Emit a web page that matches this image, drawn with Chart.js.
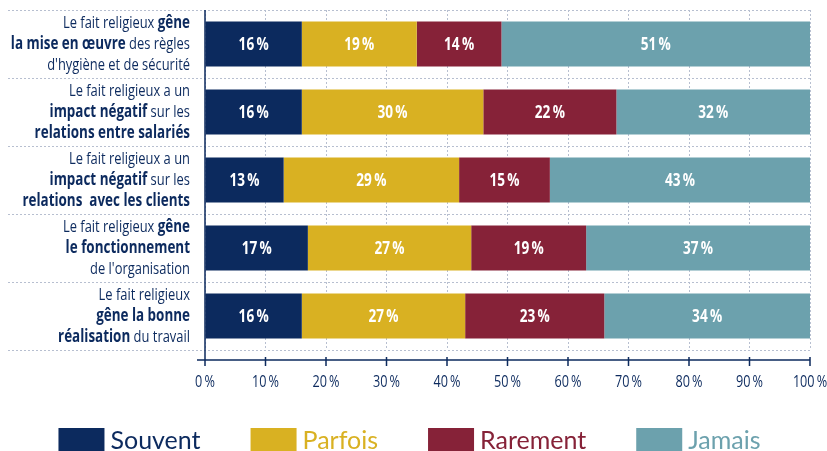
<!DOCTYPE html>
<html lang="fr">
<head>
<meta charset="utf-8">
<title>Fait religieux au travail</title>
<script src="https://cdn.jsdelivr.net/npm/chart.js@4.4.1/dist/chart.umd.min.js"></script>
<style>
  html, body { margin: 0; padding: 0; background: #fff; }
</style>
</head>
<body>
<canvas id="chart" width="827" height="451"></canvas>
<script>
// rows of the chart, three lines each; **...** marks bold words
const rowLabels = [
  ["Le fait religieux **gêne**", "**la mise en œuvre** des règles", "d'hygiène et de sécurité"],
  ["Le fait religieux a un", "**impact négatif** sur les", "**relations entre salariés**"],
  ["Le fait religieux a un", "**impact négatif** sur les", "**relations  avec les clients**"],
  ["Le fait religieux **gêne**", "**le fonctionnement**", "de l'organisation"],
  ["Le fait religieux", "**gêne la bonne**", "**réalisation** du travail"]
];

const seriesNames = ["Souvent", "Parfois", "Rarement", "Jamais"];
const seriesColors = ["#0c2a5e", "#d9b122", "#862238", "#6ca1ad"];

const souvent  = [16, 16, 13, 17, 16];
const parfois  = [19, 30, 29, 27, 27];
const rarement = [14, 22, 15, 19, 23];
const jamais   = [51, 32, 43, 37, 34];

const xTicks = [0, 10, 20, 30, 40, 50, 60, 70, 80, 90, 100];

const NAVY = "#0c2a5e";
const GRID = "#b7bfd0";
const FAMILY = "'Open Sans', 'Noto Sans', sans-serif";
// horizontal squeeze for the condensed look
const SQUEEZE = 0.76, SQUEEZE_BOLD = 0.79;
const pct = v => v + "\u2009%";

function segments(line) {
  return line.split("**").map((t, i) => ({ text: t, bold: i % 2 === 1 })).filter(s => s.text);
}

// draws text squeezed horizontally around its anchor
function narrowText(ctx, text, x, y, align, sx) {
  ctx.save();
  ctx.translate(x, y);
  ctx.scale(sx, 1);
  ctx.textAlign = align;
  ctx.fillText(text, 0, 0);
  ctx.restore();
}

// dotted row separators, axis lines, tick marks and tick labels
const framePlugin = {
  id: "frame",
  beforeDatasetsDraw(chart) {
    const { ctx, chartArea: a } = chart;
    const band = (a.bottom - a.top) / rowLabels.length;
    ctx.save();
    ctx.strokeStyle = GRID;
    ctx.lineWidth = 1;
    ctx.setLineDash([2, 2]);
    for (let k = 0; k <= rowLabels.length; k++) {
      const y = Math.round(a.top + k * band) + 0.5;
      ctx.beginPath();
      ctx.moveTo(8, y);
      ctx.lineTo(a.right, y);
      ctx.stroke();
    }
    ctx.restore();
  },
  afterDraw(chart) {
    const { ctx, chartArea: a } = chart;
    const xs = chart.scales.x;
    const axisY = a.bottom + 10;
    ctx.save();
    ctx.strokeStyle = NAVY;
    ctx.lineWidth = 1.5;
    ctx.beginPath();
    ctx.moveTo(a.left, a.top);
    ctx.lineTo(a.left, axisY);
    ctx.moveTo(a.left - 8, axisY);
    ctx.lineTo(a.right, axisY);
    xTicks.forEach(v => {
      const x = xs.getPixelForValue(v);
      ctx.moveTo(x, axisY - 3);
      ctx.lineTo(x, axisY + 6);
    });
    ctx.stroke();
    ctx.fillStyle = NAVY;
    ctx.font = "16px " + FAMILY;
    ctx.textBaseline = "middle";
    xTicks.forEach(v => narrowText(ctx, pct(v), xs.getPixelForValue(v), axisY + 22, "center", 0.79));
    ctx.restore();
  }
};

// multi-weight row labels left of the bars
const rowLabelPlugin = {
  id: "rowLabels",
  afterDraw(chart) {
    const { ctx, chartArea: a } = chart;
    const ys = chart.scales.y;
    const right = a.left - 15;
    ctx.save();
    ctx.fillStyle = NAVY;
    ctx.textBaseline = "middle";
    rowLabels.forEach((lines, j) => {
      const yc = ys.getPixelForValue(j);
      lines.forEach((line, k) => {
        const segs = segments(line);
        let w = 0;
        segs.forEach(s => {
          s.font = (s.bold ? "bold " : "") + "17px " + FAMILY;
          s.sx = s.bold ? SQUEEZE_BOLD : SQUEEZE;
          ctx.font = s.font;
          s.w = ctx.measureText(s.text).width * s.sx;
          w += s.w;
        });
        let x = right - w;
        const y = yc + (k - 1) * 21;
        segs.forEach(s => {
          ctx.font = s.font;
          narrowText(ctx, s.text, x, y, "left", s.sx);
          x += s.w;
        });
      });
    });
    ctx.restore();
  }
};

// value in the middle of every segment
const valuePlugin = {
  id: "values",
  afterDatasetsDraw(chart) {
    const { ctx } = chart;
    ctx.save();
    ctx.fillStyle = "#ffffff";
    ctx.font = "bold 17px " + FAMILY;
    ctx.textBaseline = "middle";
    chart.data.datasets.forEach((ds, i) => {
      chart.getDatasetMeta(i).data.forEach((bar, j) => {
        const p = bar.getProps(["x", "y", "base"], true);
        narrowText(ctx, pct(ds.data[j]), (p.x + p.base) / 2, p.y + 1, "center", 0.8);
      });
    });
    ctx.restore();
  }
};

// colour boxes and coloured names under the axis
const legendPlugin = {
  id: "legendRow",
  afterDraw(chart) {
    const { ctx, width } = chart;
    const boxW = 46, boxH = 23, gap = 6, spacing = 50, top = 428;
    ctx.save();
    ctx.font = "25px Lato, 'Open Sans', sans-serif";
    ctx.textBaseline = "middle";
    const items = chart.data.datasets.map(ds => ({
      label: ds.label, color: ds.backgroundColor, w: ctx.measureText(ds.label).width
    }));
    const total = items.reduce((s, it) => s + boxW + gap + it.w, 0) + spacing * (items.length - 1);
    let x = (width - total) / 2 - 4;
    items.forEach(it => {
      ctx.fillStyle = it.color;
      ctx.fillRect(x, top, boxW, boxH);
      ctx.fillText(it.label, x + boxW + gap, top + boxH / 2 + 1);
      x += boxW + gap + it.w + spacing;
    });
    ctx.restore();
  }
};

const seriesValues = [souvent, parfois, rarement, jamais];

new Chart(document.getElementById("chart").getContext("2d"), {
  type: "bar",
  data: {
    labels: rowLabels.map(l => l.join(" ").replace(/\*\*/g, "")),
    datasets: seriesNames.map((name, i) => ({
      label: name,
      data: seriesValues[i],
      backgroundColor: seriesColors[i],
      borderWidth: 0,
      barPercentage: 0.66,
      categoryPercentage: 1
    }))
  },
  options: {
    indexAxis: "y",
    responsive: false,
    animation: false,
    devicePixelRatio: 1,
    layout: { padding: { top: 10, right: 17, left: 0, bottom: 0 } },
    plugins: { legend: { display: false }, tooltip: { enabled: false } },
    scales: {
      x: {
        stacked: true,
        min: 0,
        max: 100,
        afterBuildTicks: s => { s.ticks = xTicks.map(v => ({ value: v })); },
        afterFit: s => { s.height = 101; },
        ticks: { display: false },
        grid: { color: GRID, lineWidth: 1, drawTicks: false },
        border: { display: false, dash: [2, 2] }
      },
      y: {
        stacked: true,
        afterFit: s => { s.width = 205; },
        ticks: { display: false },
        grid: { display: false },
        border: { display: false }
      }
    }
  },
  plugins: [framePlugin, rowLabelPlugin, valuePlugin, legendPlugin]
});
</script>
</body>
</html>
